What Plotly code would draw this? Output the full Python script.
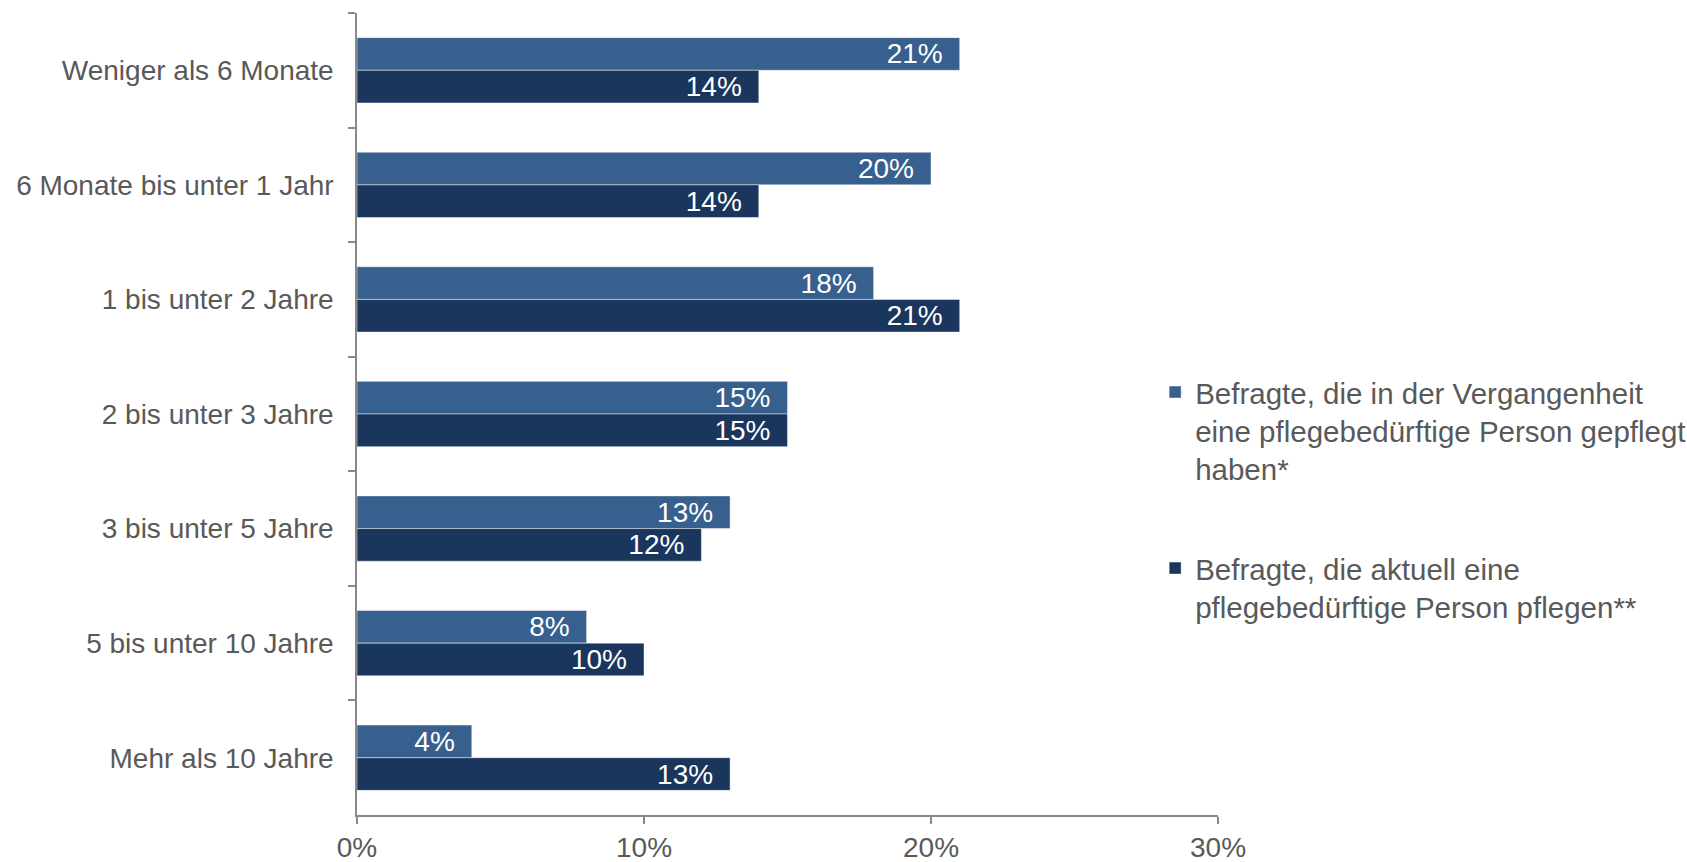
import plotly.graph_objects as go

# Pflegedauer – Anteil der Befragten je Dauerkategorie (in %)
categories = [
    "Weniger als 6 Monate",
    "6 Monate bis unter 1 Jahr",
    "1 bis unter 2 Jahre",
    "2 bis unter 3 Jahre",
    "3 bis unter 5 Jahre",
    "5 bis unter 10 Jahre",
    "Mehr als 10 Jahre",
]
past_carers = [21, 20, 18, 15, 13, 8, 4]
current_carers = [14, 14, 21, 15, 12, 10, 13]

series_names = [
    "Befragte, die in der Vergangenheit<br>eine pflegebedürftige Person gepflegt<br>haben*",
    "Befragte, die aktuell eine<br>pflegebedürftige Person pflegen**",
]
x_ticks = [0, 10, 20, 30]
x_tick_labels = ["0%", "10%", "20%", "30%"]

FONT = "Liberation Sans, Arial, sans-serif"
TEXT_GREY = "#595959"
AXIS_GREY = "#898989"
colors = ["#37608F", "#1A365D"]

fig = go.Figure()
for i, (name, values) in enumerate(zip(series_names, [past_carers, current_carers])):
    fig.add_trace(
        go.Bar(
            name=name,
            y=categories,
            x=values,
            orientation="h",
            legendgroup=f"g{i}",
            marker=dict(color=colors[i], line=dict(color="rgba(255,255,255,0.45)", width=1)),
            text=[f"{v}%\u2002" for v in values],
            textposition="inside",
            insidetextanchor="end",
            constraintext="none",
            textfont=dict(family=FONT, size=28, color="white"),
            cliponaxis=False,
        )
    )

fig.update_layout(
    width=1687,
    height=862,
    margin=dict(l=357, r=469, t=13, b=47, autoexpand=False),
    paper_bgcolor="white",
    plot_bgcolor="white",
    barmode="group",
    bargap=0.43,
    bargroupgap=0,
    font=dict(family=FONT, size=28, color=TEXT_GREY),
    uniformtext=dict(minsize=28, mode="show"),
    showlegend=True,
    legend=dict(
        x=0.927,
        xanchor="left",
        y=0.5594,
        yanchor="top",
        traceorder="grouped",
        tracegroupgap=58,
        valign="top",
        font=dict(family=FONT, size=29.5, color=TEXT_GREY),
        bgcolor="rgba(0,0,0,0)",
    ),
    xaxis=dict(
        range=[0, 30],
        tickvals=x_ticks,
        ticktext=x_tick_labels,
        showgrid=False,
        zeroline=False,
        showline=True,
        linecolor=AXIS_GREY,
        linewidth=1.5,
        ticks="outside",
        ticklen=7,
        tickwidth=1.5,
        tickcolor=AXIS_GREY,
        automargin=False,
        tickfont=dict(family=FONT, size=28, color=TEXT_GREY),
    ),
    yaxis=dict(
        categoryorder="array",
        categoryarray=categories,
        autorange="reversed",
        showgrid=False,
        zeroline=False,
        showline=True,
        linecolor=AXIS_GREY,
        linewidth=1.5,
        ticks="outside",
        tickson="boundaries",
        ticklen=7,
        tickwidth=1.5,
        tickcolor=AXIS_GREY,
        ticklabelstandoff=16,
        automargin=False,
        tickfont=dict(family=FONT, size=28, color=TEXT_GREY),
    ),
)

fig.write_html("out.html")
